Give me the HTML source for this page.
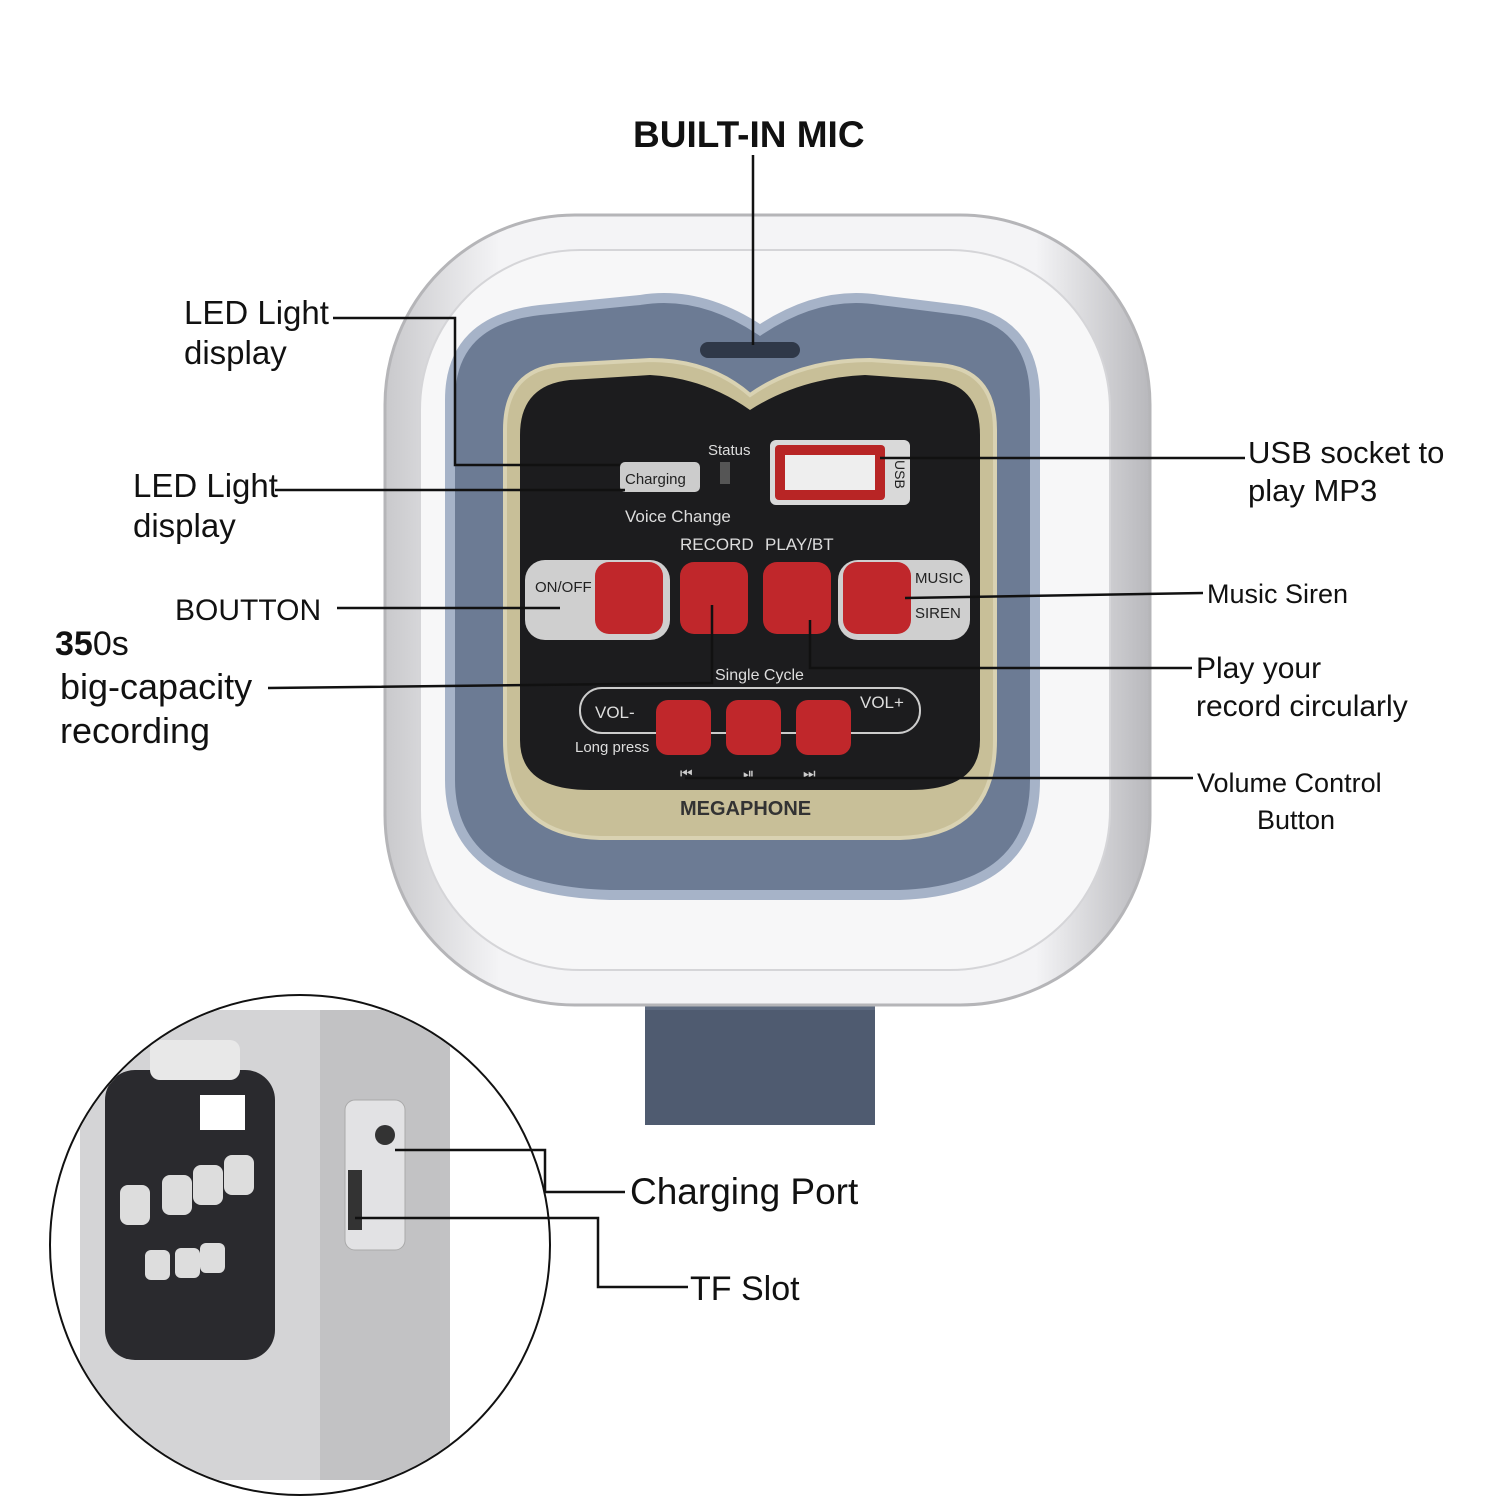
<!DOCTYPE html>
<html><head><meta charset="utf-8"><style>
html,body{margin:0;padding:0;background:#fff;}
svg{display:block}
text{font-family:"Liberation Sans",sans-serif}
</style></head><body>
<svg width="1500" height="1500" viewBox="0 0 1500 1500" xmlns="http://www.w3.org/2000/svg">
<defs>
<linearGradient id="bod" x1="0" x2="1" y1="0" y2="0">
<stop offset="0" stop-color="#c9c9cc"/><stop offset="0.15" stop-color="#f4f4f6"/><stop offset="0.85" stop-color="#f4f4f6"/><stop offset="1" stop-color="#b8b8bc"/></linearGradient>
</defs>
<rect x="645" y="870" width="230" height="255" fill="#4f5b70"/>
<polygon points="645,920 760,1000 875,920 875,1010 645,1010" fill="#5d6a80"/>
<rect x="385" y="215" width="765" height="790" rx="190" fill="url(#bod)" stroke="#b5b5b8" stroke-width="3"/>
<rect x="420" y="250" width="690" height="720" rx="160" fill="#f7f7f8" stroke="#d5d5d8" stroke-width="2"/>
<path d="M450,400 Q450,320 540,310 L640,300 Q700,290 760,330 Q820,290 880,300 L960,310 Q1035,320 1035,400 L1035,780 Q1035,890 900,895 L610,895 Q450,890 450,780 Z" fill="#6c7b94" stroke="#a6b3c8" stroke-width="10"/>
<rect x="700" y="342" width="100" height="16" rx="8" fill="#2f3848"/>
<path d="M505,430 Q505,370 560,365 L650,360 Q710,360 750,395 Q800,360 870,360 L940,365 Q995,370 995,430 L995,740 Q995,835 900,838 L600,838 Q505,835 505,740 Z" fill="#c8bf98" stroke="#d9d2b2" stroke-width="4"/>
<path d="M520,435 Q520,385 570,380 L650,375 Q705,378 750,410 Q800,378 865,375 L935,380 Q980,385 980,435 L980,740 Q980,790 910,790 L590,790 Q520,790 520,740 Z" fill="#1c1c1e"/>
<text x="680" y="815" font-size="20" font-weight="bold" fill="#333">MEGAPHONE</text>
<rect x="770" y="440" width="140" height="65" rx="6" fill="#d9d9d9"/>
<rect x="775" y="445" width="110" height="55" rx="4" fill="#b82525"/>
<rect x="785" y="455" width="90" height="35" fill="#eee"/>
<text x="895" y="460" font-size="14" fill="#222" transform="rotate(90 895 460)">USB</text>
<text x="708" y="455" font-size="15" fill="#ddd">Status</text>
<rect x="620" y="462" width="80" height="30" rx="5" fill="#ccc"/>
<text x="625" y="484" font-size="15" fill="#222">Charging</text>
<rect x="720" y="462" width="10" height="22" fill="#555"/>
<text x="625" y="522" font-size="17" fill="#ddd">Voice Change</text>
<text x="680" y="550" font-size="17" fill="#ddd">RECORD</text>
<text x="765" y="550" font-size="17" fill="#ddd">PLAY/BT</text>
<rect x="525" y="560" width="145" height="80" rx="20" fill="#cfcfcf"/>
<text x="535" y="592" font-size="15" fill="#222">ON/OFF</text>
<rect x="838" y="560" width="132" height="80" rx="20" fill="#cfcfcf"/>
<text x="915" y="583" font-size="15" fill="#222">MUSIC</text>
<text x="915" y="618" font-size="15" fill="#222">SIREN</text>
<rect x="595" y="562" width="68" height="72" rx="14" fill="#c0272b"/>
<rect x="680" y="562" width="68" height="72" rx="14" fill="#c0272b"/>
<rect x="763" y="562" width="68" height="72" rx="14" fill="#c0272b"/>
<rect x="843" y="562" width="68" height="72" rx="14" fill="#c0272b"/>
<text x="715" y="680" font-size="16" fill="#ddd">Single Cycle</text>
<rect x="580" y="688" width="340" height="45" rx="22" fill="none" stroke="#ccc" stroke-width="2"/>
<text x="595" y="718" font-size="17" fill="#ddd">VOL-</text>
<text x="860" y="708" font-size="17" fill="#ddd">VOL+</text>
<text x="575" y="752" font-size="15" fill="#ddd">Long press</text>
<rect x="656" y="700" width="55" height="55" rx="12" fill="#c0272b"/>
<rect x="726" y="700" width="55" height="55" rx="12" fill="#c0272b"/>
<rect x="796" y="700" width="55" height="55" rx="12" fill="#c0272b"/>
<text x="680" y="778" font-size="14" fill="#ccc">⏮</text>
<text x="743" y="778" font-size="14" fill="#ccc">⏯</text>
<text x="803" y="778" font-size="14" fill="#ccc">⏭</text>
<circle cx="300" cy="1245" r="250" fill="#fff" stroke="#111" stroke-width="2"/>
<clipPath id="cc"><circle cx="300" cy="1245" r="249"/></clipPath>
<g clip-path="url(#cc)">
<rect x="80" y="1010" width="360" height="470" rx="60" fill="#d4d4d6"/>
<rect x="320" y="1010" width="130" height="470" fill="#c2c2c4"/>
<rect x="105" y="1070" width="170" height="290" rx="30" fill="#2a2a2e"/>
<rect x="345" y="1100" width="60" height="150" rx="10" fill="#e2e2e4" stroke="#aaa"/>
<circle cx="385" cy="1135" r="10" fill="#333"/>
<rect x="348" y="1170" width="14" height="60" fill="#333"/>
<rect x="150" y="1040" width="90" height="40" rx="10" fill="#e8e8e8"/>
<g fill="#ddd"><rect x="120" y="1185" width="30" height="40" rx="8"/><rect x="162" y="1175" width="30" height="40" rx="8"/><rect x="193" y="1165" width="30" height="40" rx="8"/><rect x="224" y="1155" width="30" height="40" rx="8"/><rect x="145" y="1250" width="25" height="30" rx="6"/><rect x="175" y="1248" width="25" height="30" rx="6"/><rect x="200" y="1243" width="25" height="30" rx="6"/><rect x="200" y="1095" width="45" height="35" fill="#fff"/></g>
</g>
<g stroke="#111" stroke-width="2.5" fill="none">
<polyline points="753,155 753,345"/>
<polyline points="333,318 455,318 455,465 620,465"/>
<polyline points="275,490 625,490"/>
<polyline points="337,608 560,608"/>
<polyline points="268,688 712,683 712,605"/>
<polyline points="880,458 1245,458"/>
<polyline points="905,598 1203,593"/>
<polyline points="810,620 810,668 1192,668"/>
<polyline points="685,778 1193,778"/>
<polyline points="395,1150 545,1150 545,1192 625,1192"/>
<polyline points="355,1218 598,1218 598,1287 688,1287"/>
</g>
<g fill="#111">
<text x="633" y="147" font-size="37" font-weight="bold">BUILT-IN MIC</text>
<text x="184" y="324" font-size="33">LED Light</text>
<text x="184" y="364" font-size="33">display</text>
<text x="133" y="497" font-size="33">LED Light</text>
<text x="133" y="537" font-size="33">display</text>
<text x="175" y="620" font-size="30">BOUTTON</text>
<text x="55" y="655" font-size="34"><tspan font-weight="bold">35</tspan>0s</text>
<text x="60" y="699" font-size="36">big-capacity</text>
<text x="60" y="743" font-size="36">recording</text>
<text x="1248" y="463" font-size="31">USB socket to</text>
<text x="1248" y="501" font-size="31">play MP3</text>
<text x="1207" y="603" font-size="27">Music Siren</text>
<text x="1196" y="678" font-size="30">Play your</text>
<text x="1196" y="716" font-size="30">record circularly</text>
<text x="1197" y="792" font-size="27">Volume Control</text>
<text x="1257" y="829" font-size="27">Button</text>
<text x="630" y="1204" font-size="37">Charging Port</text>
<text x="690" y="1300" font-size="34">TF Slot</text>
</g>
</svg>
</body></html>
